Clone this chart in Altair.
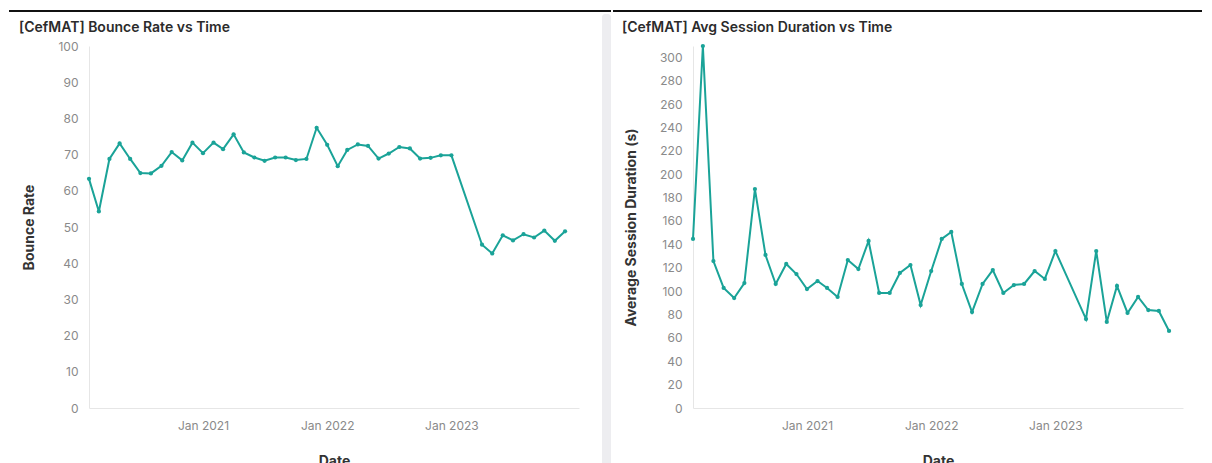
import altair as alt
import pandas as pd

# ---- data ----
dates = [
    "2020-02-01", "2020-03-01", "2020-04-01", "2020-05-01", "2020-06-01", "2020-07-01",
    "2020-08-01", "2020-09-01", "2020-10-01", "2020-11-01", "2020-12-01",
    "2021-01-01", "2021-02-01", "2021-03-01", "2021-04-01", "2021-05-01", "2021-06-01",
    "2021-07-01", "2021-08-01", "2021-09-01", "2021-10-01", "2021-11-01", "2021-12-01",
    "2022-01-01", "2022-02-01", "2022-03-01", "2022-04-01", "2022-05-01", "2022-06-01",
    "2022-07-01", "2022-08-01", "2022-09-01", "2022-10-01", "2022-11-01", "2022-12-01",
    "2023-01-01", "2023-04-01", "2023-05-01", "2023-06-01", "2023-07-01", "2023-08-01",
    "2023-09-01", "2023-10-01", "2023-11-01", "2023-12-01",
]

bounce_rate = [
    63.3, 54.3, 68.8, 73.1, 68.8, 64.9, 64.8, 66.9, 70.7, 68.4, 73.3,
    70.4, 73.3, 71.5, 75.6, 70.6, 69.2, 68.3, 69.2, 69.2, 68.5, 68.8, 77.4,
    72.7, 66.8, 71.3, 72.8, 72.4, 68.9, 70.3, 72.1, 71.7, 68.9, 69.1, 69.8,
    69.8, 45.1, 42.7, 47.7, 46.3, 48.0, 47.1, 49.0, 46.2, 48.8,
]

avg_session = [
    144.6, 309.7, 125.7, 102.7, 94.1, 106.9, 187.3, 130.9, 106.1, 123.2, 114.6,
    101.8, 108.6, 102.7, 95.0, 126.6, 118.9, 142.9, 98.4, 98.4, 115.5, 122.3, 88.1,
    117.2, 144.6, 150.6, 106.1, 82.1, 106.1, 118.0, 98.4, 105.2, 106.1, 117.2, 110.4,
    134.3, 76.1, 134.3, 73.6, 104.4, 81.3, 95.0, 83.8, 83.0, 65.9,
]

bounce_ticks = [0, 10, 20, 30, 40, 50, 60, 70, 80, 90, 100]
session_ticks = [0, 20, 40, 60, 80, 100, 120, 140, 160, 180, 200, 220, 240, 260, 280, 300]
year_ticks = [2021, 2022, 2023]

LINE_COLOR = "#1aa398"
FONT = "Inter"
PLOT_W = 490
PLOT_H = 362


def panel(values, title, ytitle, ymax, yticks, title_dx, right_edge, strip_w):
    df = pd.DataFrame({"date": [d + "T00:00:00" for d in dates], "value": values})
    x = alt.X(
        "date:T",
        title="Date",
        scale=alt.Scale(domain=[alt.DateTime(year=2020, month=2, date=1),
                                alt.DateTime(year=2024, month=1, date=11)]),
        axis=alt.Axis(values=[alt.DateTime(year=y, month=1, date=1) for y in year_ticks],
                      format="%b %Y", labelPadding=12, titlePadding=23),
    )
    y = alt.Y(
        "value:Q",
        title=ytitle,
        scale=alt.Scale(domain=[0, ymax], nice=False),
        axis=alt.Axis(values=yticks, labelPadding=11, titlePadding=21),
    )
    base = alt.Chart(df)
    line = base.mark_line(color=LINE_COLOR, strokeWidth=2).encode(x=x, y=y)
    pts = base.mark_circle(color=LINE_COLOR, size=18, opacity=1).encode(x=x, y=y)

    one = alt.Chart(pd.DataFrame({"k": [0]}))
    frame_line = one.mark_rule(color="#111111", strokeWidth=2).encode(
        x=alt.value(-80), x2=alt.value(right_edge), y=alt.value(-35)
    )
    layers = []
    if strip_w > 0:
        strip = one.mark_rect(color="#ededf0", cornerRadius=3).encode(
            x=alt.value(right_edge - strip_w),
            x2=alt.value(right_edge),
            y=alt.value(-32), y2=alt.value(425),
        )
        layers.append(strip)
    layers += [frame_line, line, pts]
    return alt.layer(*layers).properties(
        width=PLOT_W,
        height=PLOT_H,
        title=alt.TitleParams(
            text=title, anchor="start", frame="group", dx=title_dx, offset=-36.4,
            baseline="alphabetic", font=FONT, fontSize=14, fontWeight=600, color="#2b2b2b",
        ),
    )


left = panel(bounce_rate, "[CefMAT] Bounce Rate vs Time", "Bounce Rate",
             100, bounce_ticks, -70, 522, 9)
right = panel(avg_session, "[CefMAT] Avg Session Duration vs Time", "Average Session Duration (s)",
              309.7, session_ticks, -71, 509, 0)

chart = (
    alt.hconcat(left, right, spacing=0)
    .properties(padding={"left": 0, "top": 2, "right": 0, "bottom": 0}, background="white")
    .configure_view(strokeWidth=0)
    .configure_axis(
        grid=False, ticks=False, tickSize=0,
        domainColor="#e6e6e6", domainWidth=1,
        labelFont=FONT, labelFontSize=12, labelColor="#8a8a8a",
        titleFont=FONT, titleFontSize=14, titleFontWeight="bold", titleColor="#333333",
    )
)

chart.save("out.html", embed_options={"renderer": "svg", "actions": False})
